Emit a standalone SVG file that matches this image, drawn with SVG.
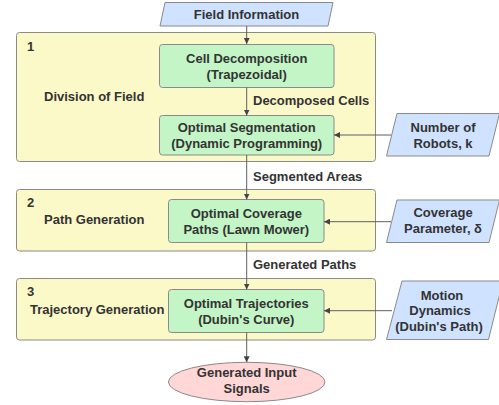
<svg xmlns="http://www.w3.org/2000/svg" width="499" height="405" viewBox="0 0 499 405">
<defs>
<marker id="ah" viewBox="0 0 10 10" refX="10" refY="5" markerWidth="6" markerHeight="6" markerUnits="userSpaceOnUse" orient="auto">
<path d="M0,0 L10,5 L0,10 z" fill="#444"/>
</marker>
</defs>
<style>
text{font-family:"Liberation Sans",Arial,sans-serif;font-weight:bold;font-size:13px;fill:#333;}
.c{text-anchor:middle;}
.stage{fill:#fcf9c9;stroke:#8a8a8a;stroke-width:1;}
.proc{fill:#c3f5c6;stroke:#8a8a8a;stroke-width:1;}
.io{fill:#cfe2ff;stroke:#8a8a8a;stroke-width:1;stroke-linejoin:round;}
.term{fill:#ffd7d7;stroke:#8a8a8a;stroke-width:1;}
.edge{stroke:#5f5f5f;stroke-width:1;fill:none;marker-end:url(#ah);}
</style>
<g id="stage1">
<rect class="stage" x="16.5" y="32.5" width="359" height="129" rx="3"/>
<text x="27" y="51">1</text>
<text x="44" y="101">Division of Field</text>
</g>
<g id="stage2">
<rect class="stage" x="16.5" y="189.5" width="359" height="61.5" rx="3"/>
<text x="27" y="207">2</text>
<text x="44" y="224">Path Generation</text>
</g>
<g id="stage3">
<rect class="stage" x="16.5" y="278.5" width="359" height="61.5" rx="3"/>
<text x="27" y="296">3</text>
<text x="30" y="314">Trajectory Generation</text>
</g>
<g id="field-info">
<path class="io" d="M165,2.5 L333,2.5 L328,26 L160,26 Z"/>
<text class="c" x="246.5" y="19">Field Information</text>
</g>
<g id="cell-decomp">
<rect class="proc" x="159.5" y="44.5" width="174.5" height="43" rx="3"/>
<text class="c" x="246.7" y="63">Cell Decomposition</text>
<text class="c" x="246.7" y="79">(Trapezoidal)</text>
</g>
<g id="opt-seg">
<rect class="proc" x="159.5" y="115.5" width="174.5" height="39.5" rx="3"/>
<text class="c" x="246.7" y="132">Optimal Segmentation</text>
<text class="c" x="246.7" y="148">(Dynamic Programming)</text>
</g>
<g id="robots">
<path class="io" d="M397,113.5 L499.5,113.5 L489,156 L386.5,156 Z"/>
<text class="c" x="443" y="132">Number of</text>
<text class="c" x="443" y="148">Robots, k</text>
</g>
<g id="opt-cov">
<rect class="proc" x="168.5" y="199.5" width="155.5" height="43" rx="3"/>
<text class="c" x="246.3" y="218">Optimal Coverage</text>
<text class="c" x="246.3" y="234">Paths (Lawn Mower)</text>
</g>
<g id="cov-param">
<path class="io" d="M397,200 L499.5,200 L489,242.5 L386.5,242.5 Z"/>
<text class="c" x="443" y="217">Coverage</text>
<text class="c" x="443" y="233">Parameter, δ</text>
</g>
<g id="opt-traj">
<rect class="proc" x="168.5" y="289.5" width="155.5" height="43" rx="3"/>
<text class="c" x="246.3" y="308">Optimal Trajectories</text>
<text class="c" x="246.3" y="324">(Dubin's Curve)</text>
</g>
<g id="motion">
<path class="io" d="M402,281 L503,281 L488.5,339.5 L386.5,339.5 Z"/>
<text class="c" x="442" y="300">Motion</text>
<text class="c" x="440" y="315">Dynamics</text>
<text class="c" x="439" y="331">(Dubin's Path)</text>
</g>
<g id="signals">
<ellipse class="term" cx="246.7" cy="382" rx="78.3" ry="19.7"/>
<text class="c" x="246.7" y="377">Generated Input</text>
<text class="c" x="246.7" y="393">Signals</text>
</g>
<g id="connectors">
<line class="edge" x1="246.7" y1="26" x2="246.7" y2="44"/>
<line class="edge" x1="246.7" y1="87.5" x2="246.7" y2="115.5"/>
<text x="253" y="105">Decomposed Cells</text>
<line class="edge" x1="246.7" y1="155" x2="246.7" y2="199.5"/>
<text x="253" y="181">Segmented Areas</text>
<line class="edge" x1="246.7" y1="242.5" x2="246.7" y2="289.5"/>
<text x="253" y="269">Generated Paths</text>
<line class="edge" x1="246.7" y1="332.5" x2="246.7" y2="362.3"/>
<line class="edge" x1="391" y1="135" x2="334" y2="135"/>
<line class="edge" x1="391" y1="221.7" x2="324" y2="221.7"/>
<line class="edge" x1="392" y1="310.7" x2="324" y2="310.7"/>
</g>
</svg>
